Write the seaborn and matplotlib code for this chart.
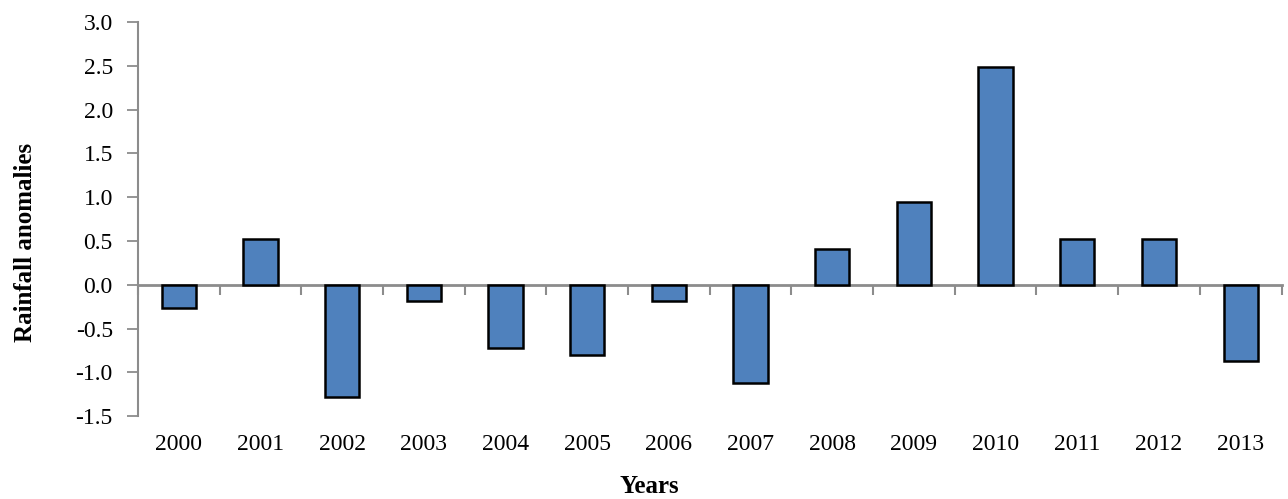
import matplotlib
matplotlib.use("Agg")
import matplotlib.pyplot as plt
import numpy as np
import pandas as pd
import seaborn as sns

years = [str(y) for y in range(2000, 2014)]
anomalies = [-0.27, 0.525, -1.28, -0.19, -0.72, -0.80, -0.18,
             -1.12, 0.41, 0.95, 2.49, 0.525, 0.525, -0.87]
y_ticks = [-1.5, -1.0, -0.5, 0.0, 0.5, 1.0, 1.5, 2.0, 2.5, 3.0]

df = pd.DataFrame({'year': years, 'anomaly': anomalies})

sns.set_style('white')
plt.rcParams['font.family'] = ['Liberation Serif', 'DejaVu Serif']
plt.rcParams['text.color'] = 'black'
plt.rcParams['xtick.labelcolor'] = 'black'
plt.rcParams['ytick.labelcolor'] = 'black'
plt.rcParams['axes.labelcolor'] = 'black'

fig = plt.figure(figsize=(12.88, 4.99), dpi=100)
ax = fig.add_axes([0.107, 0.166, 0.888, 0.790])

sns.barplot(data=df, x='year', y='anomaly', color='#4F81BD', saturation=1,
            width=0.42, edgecolor='black', linewidth=1.8, ax=ax)

ymin, ymax = -1.5, 3.0
ax.set_ylim(ymin, ymax)
ax.set_xlim(-0.5, len(years) - 0.5)
ax.set_yticks(y_ticks)
ax.set_yticklabels([f'{v:.1f}' for v in y_ticks], fontsize=17)
ax.tick_params(axis='y', left=True, direction='out', length=8, width=1.3,
               color='#8c8c8c', labelcolor='black', pad=10)
ax.tick_params(axis='x', length=0, labelsize=17, labelcolor='black', pad=13)

for s in ['top', 'right', 'bottom']:
    ax.spines[s].set_visible(False)
ax.spines['left'].set_color('#8c8c8c')
ax.spines['left'].set_linewidth(1.5)

# zero line with category boundary ticks (Excel style)
zero = ax.secondary_xaxis((0 - ymin) / (ymax - ymin))
zero.set_xticks(np.arange(len(years) + 1) - 0.5)
zero.set_xticklabels([])
zero.tick_params(direction='out', length=7, width=1.5, color='#8c8c8c')
zero.spines['bottom'].set_visible(True)
zero.spines['bottom'].set_color('#8c8c8c')
zero.spines['bottom'].set_linewidth(2)

ax.set_xlabel('Years', fontsize=18, fontweight='bold', color='black')
ax.set_ylabel('Rainfall anomalies', fontsize=18, fontweight='bold', color='black')
ax.xaxis.set_label_coords(0.447, -0.148)
ax.yaxis.set_label_coords(-0.088, 0.44)

fig.savefig('out.png', dpi=100)
